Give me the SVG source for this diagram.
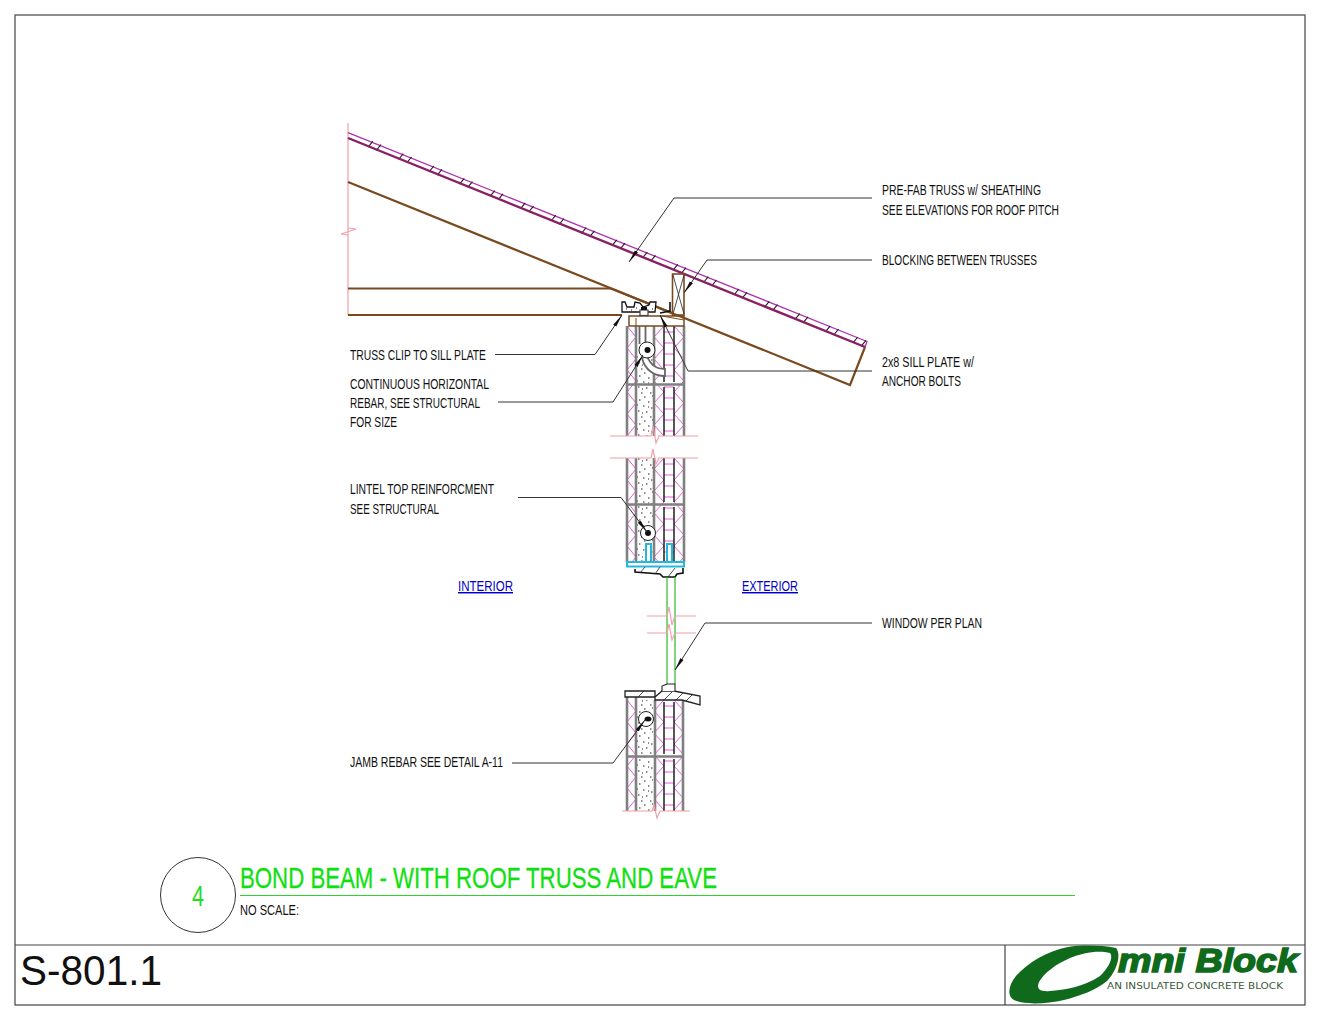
<svg xmlns="http://www.w3.org/2000/svg" width="1320" height="1020" viewBox="0 0 1320 1020">
<style>
.frame{fill:none;stroke:#444;stroke-width:1.2}
.lbl{font-family:"Liberation Sans Narrow","Liberation Sans",sans-serif;font-size:14.5px;fill:#111}
.blu{font-family:"Liberation Sans Narrow","Liberation Sans",sans-serif;font-size:14.5px;fill:#0000c8;text-decoration:underline}
.lead{fill:none;stroke:#333;stroke-width:1;marker-end:url(#arr)}
.wood{fill:none;stroke:#7a4a1e;stroke-width:2.2}
.brk{fill:none;stroke:#f0a0a8;stroke-width:1.2}
.gr{stroke:#808080;stroke-width:2.6;fill:none}
.bk{stroke:#111;stroke-width:1.4;fill:none}
.pk{stroke:#e858e0;stroke-width:1;fill:none}
.cy{fill:#fff;stroke:#25b8dc;stroke-width:2}
.gn{stroke:#2fb82f;stroke-width:1.2;fill:none}
.ht{stroke:#222;stroke-width:.8;fill:none}
.tk{stroke:#222;stroke-width:1.1;fill:none}
</style>
<defs>
<marker id="arr" markerUnits="userSpaceOnUse" markerWidth="14" markerHeight="8" refX="13" refY="4" orient="auto"><path d="M0 2.200L13 4L0 5.800Z" fill="#111"/></marker>
<pattern id="zl" patternUnits="userSpaceOnUse" x="627" y="326" width="9" height="22"><path d="M0 0L9 11L0 22" class="pk"/></pattern>
<pattern id="zm" patternUnits="userSpaceOnUse" x="654" y="326" width="10" height="22"><path d="M10 0L0 11L10 22" class="pk"/></pattern>
<pattern id="zr" patternUnits="userSpaceOnUse" x="674" y="326" width="10" height="22"><path d="M0 0L10 11L0 22" class="pk"/></pattern>
<pattern id="rg" patternUnits="userSpaceOnUse" x="664" y="326" width="10" height="11"><path d="M0 6H10" class="pk"/></pattern>
<pattern id="cn" patternUnits="userSpaceOnUse" x="636" y="326" width="18" height="24"><path d="M3 2h1.500M12 4h1.500M7 8h1.500M15 10h1.500M2 13h1.500M10 14h1.500M5 19h1.500M14 19h1.500M8 23h1.500M12 9h1M6 15h1M1 7h1M16 22h1" stroke="#222" stroke-width="1.200" fill="none"/></pattern>
<g id="tks"><path d="M0.800 -1L-4 4.800M9 2.300L4.200 8.100" class="tk"/></g>
</defs>
<rect width="1320" height="1020" fill="#fff"/>

<g id="sheet-frame">
<rect x="15" y="15" width="1290" height="990" class="frame"/>
<path d="M15 945H1305M1005 945V1005" class="frame"/>
</g>

<g id="roof-truss">
<path d="M348 123V315M348 228L356 229L341 234L348 235" class="brk"/>
<path d="M348 132.700L867 341.500L865 347" fill="none" stroke="#b030b0" stroke-width="1.300"/>
<use href="#tks" x="372" y="142.400"/><use href="#tks" x="402.500" y="154.700"/><use href="#tks" x="433" y="167"/><use href="#tks" x="463.500" y="179.300"/><use href="#tks" x="494" y="191.600"/><use href="#tks" x="524.500" y="203.900"/><use href="#tks" x="555" y="216.200"/><use href="#tks" x="585.500" y="228.500"/><use href="#tks" x="616" y="240.800"/><use href="#tks" x="646.500" y="253.100"/><use href="#tks" x="677" y="265.400"/><use href="#tks" x="707.500" y="277.700"/><use href="#tks" x="738" y="290"/><use href="#tks" x="768.500" y="302.300"/><use href="#tks" x="799" y="314.600"/><use href="#tks" x="829.500" y="326.900"/><use href="#tks" x="857" y="338"/>
<path d="M348 138L865 347" fill="none" stroke="#8a1f62" stroke-width="2.400"/>
<path d="M348 182L850 385L865 347" class="wood"/>
<path d="M348 288.500H611M348 315H622" class="wood"/>
</g>

<g id="wall-upper">
<rect x="627" y="326" width="9" height="110" fill="url(#zl)"/><rect x="654" y="326" width="10" height="110" fill="url(#zm)"/><rect x="674" y="326" width="10" height="110" fill="url(#zr)"/><rect x="664" y="326" width="10" height="110" fill="url(#rg)"/><rect x="636" y="355" width="18" height="81" fill="url(#cn)"/>
<path d="M627 326V436M636 326V436M654 326V436M684 326V436M627 384.500H684" class="gr"/>
<path d="M664 326V382M674 326V382M664 387V436M674 387V436" class="bk"/>
<path d="M610 436H651L653 426L656 443L659 436H698" class="brk"/>
<path d="M639.500 315V344M645.500 315V344" stroke="#666" stroke-width="1.800" fill="none"/>
<path d="M642 358C645 370 654 376 665 376V369C656 369 650 364 647 356Z" fill="#fff" stroke="#666" stroke-width="1.800"/>
<circle cx="647" cy="350" r="8" fill="#fff" stroke="#222" stroke-width="1"/><circle cx="647.500" cy="350" r="3" fill="#111"/>
</g>

<g id="wall-lintel">
<rect x="627" y="458" width="9" height="104" fill="url(#zl)"/><rect x="654" y="458" width="10" height="104" fill="url(#zm)"/><rect x="674" y="458" width="10" height="104" fill="url(#zr)"/><rect x="664" y="458" width="10" height="104" fill="url(#rg)"/><rect x="636" y="458" width="18" height="103" fill="url(#cn)"/>
<path d="M627 458V562M636 458V562M654 458V562M684 458V562M627 504.500H684" class="gr"/>
<path d="M664 458V502M674 458V502M664 507V561M674 507V561" class="bk"/>
<path d="M610 458H651L653 449L656 464L659 458H698" class="brk"/>
<circle cx="648" cy="533" r="7.500" fill="#fff" stroke="#222" stroke-width="1"/><circle cx="648" cy="533" r="3" fill="#111"/>
<rect x="646" y="544" width="5" height="18" class="cy"/><rect x="667" y="544" width="5" height="18" class="cy"/>
<rect x="627" y="562" width="57" height="4.500" class="cy"/>
<path d="M635 569V572L660 574L663 577H675L677 574L683 573V568" fill="#fff" stroke="#111" stroke-width="1.600"/>
<path d="M640 573L645 567M655 574L660 567M668 577L675 568" class="ht"/>
</g>

<g id="window">
<path d="M667 577V684M675 577V684" class="gn"/>
<path d="M647 616H667L669 607L672 625L675 616H696M647 633H667L669 624L672 640L675 633H696" class="brk"/>
</g>

<g id="wall-lower">
<rect x="627" y="700" width="9" height="111" fill="url(#zl)"/><rect x="655" y="700" width="9" height="111" fill="url(#zm)"/><rect x="674" y="700" width="9" height="111" fill="url(#zr)"/><rect x="664" y="700" width="10" height="111" fill="url(#rg)"/><rect x="636" y="700" width="19" height="111" fill="url(#cn)"/>
<path d="M627 697V811M636 697V811M655 700V811M683 700V811M627 756.500H683" class="gr"/>
<path d="M664 702V754M674 702V754M664 759V811M674 759V811" class="bk"/>
<path d="M622 811H652L654 805L657 818L660 811H690" class="brk"/>
<path d="M625 691H655V697H625Z" fill="#fff" stroke="#222" stroke-width="1.300"/>
<path d="M655 697L662 691H674L700 696V705L682 700H655Z" fill="#fff" stroke="#222" stroke-width="1.300"/>
<path d="M662 691V686L667 684H675V691" fill="#fff" stroke="#222" stroke-width="1.100"/>
<path d="M638 697L644 691M664 700L672 692M676 700L683 693M686 701L692 695" class="ht"/>
<circle cx="646" cy="719" r="7.500" fill="#fff" stroke="#222" stroke-width="1"/><ellipse cx="648" cy="719" rx="3.500" ry="2.500" fill="#111"/>
</g>

<g id="sill-and-clip">
<path d="M629 316H684V326H629Z" fill="#fff" stroke="#7a4a1e" stroke-width="1.500"/>
<path d="M636 318V326M662 316L684 320" stroke="#7a4a1e" stroke-width="1" fill="none"/>
<rect x="672.500" y="274" width="11.500" height="41" fill="#fff" stroke="#7a4a1e" stroke-width="1.600"/>
<path d="M673 275L684 314M684 275L673 314" stroke="#222" stroke-width=".8" fill="none"/>
<path d="M611 288.500L684 318" class="wood"/>
<path d="M622 302H625L627 307H634L635 302L640 303L643 307L649 305L650 302H656L655 312H622Z" fill="#fff" stroke="#111" stroke-width="1.300"/>
<path d="M626 309h1M631 310h1M636 308h1M652 309h1" stroke="#111" stroke-width="1"/>
<rect x="640" y="310" width="8" height="5.500" fill="#fff" stroke="#444" stroke-width="1.200"/><rect x="641" y="307" width="6" height="3" fill="#111"/>
<path d="M660 313L670 311V302" fill="none" stroke="#111" stroke-width="1.600"/>
</g>

<g id="connectors">
<path d="M872 198H674L629 262" class="lead"/>
<path d="M872 260H707L684 293" class="lead"/>
<path d="M872 371H688L660 315" class="lead"/>
<path d="M872 623H705L675 670" class="lead"/>
<path d="M495 354.500H595L622 315" class="lead"/>
<path d="M498 402H613L643 355" class="lead"/>
<path d="M518 497.500H621L647 532" class="lead"/>
<path d="M512 763H613L645 720" class="lead"/>
</g>

<g id="labels">
<text class="lbl" x="882" y="195" textLength="159" lengthAdjust="spacingAndGlyphs">PRE-FAB TRUSS w/ SHEATHING</text>
<text class="lbl" x="882" y="214.500" textLength="177" lengthAdjust="spacingAndGlyphs">SEE ELEVATIONS FOR ROOF PITCH</text>
<text class="lbl" x="882" y="265" textLength="155" lengthAdjust="spacingAndGlyphs">BLOCKING BETWEEN TRUSSES</text>
<text class="lbl" x="882" y="367" textLength="92" lengthAdjust="spacingAndGlyphs">2x8 SILL PLATE w/</text>
<text class="lbl" x="882" y="386" textLength="79" lengthAdjust="spacingAndGlyphs">ANCHOR BOLTS</text>
<text class="lbl" x="882" y="628" textLength="100" lengthAdjust="spacingAndGlyphs">WINDOW PER PLAN</text>
<text class="lbl" x="350" y="360" textLength="136" lengthAdjust="spacingAndGlyphs">TRUSS CLIP TO SILL PLATE</text>
<text class="lbl" x="350" y="389" textLength="139" lengthAdjust="spacingAndGlyphs">CONTINUOUS HORIZONTAL</text>
<text class="lbl" x="350" y="408" textLength="130" lengthAdjust="spacingAndGlyphs">REBAR, SEE STRUCTURAL</text>
<text class="lbl" x="350" y="427" textLength="47" lengthAdjust="spacingAndGlyphs">FOR SIZE</text>
<text class="lbl" x="350" y="494" textLength="144" lengthAdjust="spacingAndGlyphs">LINTEL TOP REINFORCMENT</text>
<text class="lbl" x="350" y="514" textLength="89" lengthAdjust="spacingAndGlyphs">SEE STRUCTURAL</text>
<text class="lbl" x="350" y="767" textLength="153" lengthAdjust="spacingAndGlyphs">JAMB REBAR SEE DETAIL A-11</text>
<text class="blu" x="458" y="591" textLength="55" lengthAdjust="spacingAndGlyphs">INTERIOR</text>
<text class="blu" x="742" y="591" textLength="56" lengthAdjust="spacingAndGlyphs">EXTERIOR</text>
</g>

<g id="title-block">
<circle cx="198" cy="895" r="37.500" fill="#fff" stroke="#333" stroke-width="1"/>
<text x="192" y="906" font-family="'Liberation Sans Narrow','Liberation Sans',sans-serif" font-size="29" fill="#22dd22" textLength="12" lengthAdjust="spacingAndGlyphs">4</text>
<text x="240" y="888" font-family="'Liberation Sans Narrow','Liberation Sans',sans-serif" font-size="29" fill="#10e010" stroke="#10e010" stroke-width=".3" textLength="477" lengthAdjust="spacingAndGlyphs">BOND BEAM - WITH ROOF TRUSS AND EAVE</text>
<path d="M240 895.500H1075" stroke="#30d030" stroke-width="1" fill="none"/>
<text class="lbl" x="240" y="915" textLength="59" lengthAdjust="spacingAndGlyphs">NO SCALE:</text>
<text x="20" y="985" font-family="'Liberation Sans',Arial,sans-serif" font-size="43" fill="#111" textLength="142" lengthAdjust="spacingAndGlyphs">S-801.1</text>
</g>

<g id="logo">
<path fill="#0f6a1c" fill-rule="evenodd" d="M1116 948C1100 945 1082 945 1068 947C1048 951 1028 962 1016 976C1008 986 1007 996 1014 1000C1024 1005 1046 1004 1064 1000C1080 996 1096 990 1107 981C1116 972 1122 955 1116 948ZM1110 953C1098 950 1082 953 1070 958C1056 964 1044 973 1039 982C1036 989 1040 992 1050 991C1064 990 1084 987 1100 976C1108 968 1114 958 1110 953Z"/>
<text x="1118" y="972" font-family="'Liberation Sans',Arial,sans-serif" font-size="34" font-weight="700" font-style="italic" fill="#0f6a1c" stroke="#0f6a1c" stroke-width="1.600" textLength="180" lengthAdjust="spacingAndGlyphs">mni Block</text>
<text x="1107" y="989" font-family="'DejaVu Sans',sans-serif" font-size="8" fill="#3a5a3a" textLength="176" lengthAdjust="spacingAndGlyphs">AN INSULATED CONCRETE BLOCK</text>
</g>
</svg>
